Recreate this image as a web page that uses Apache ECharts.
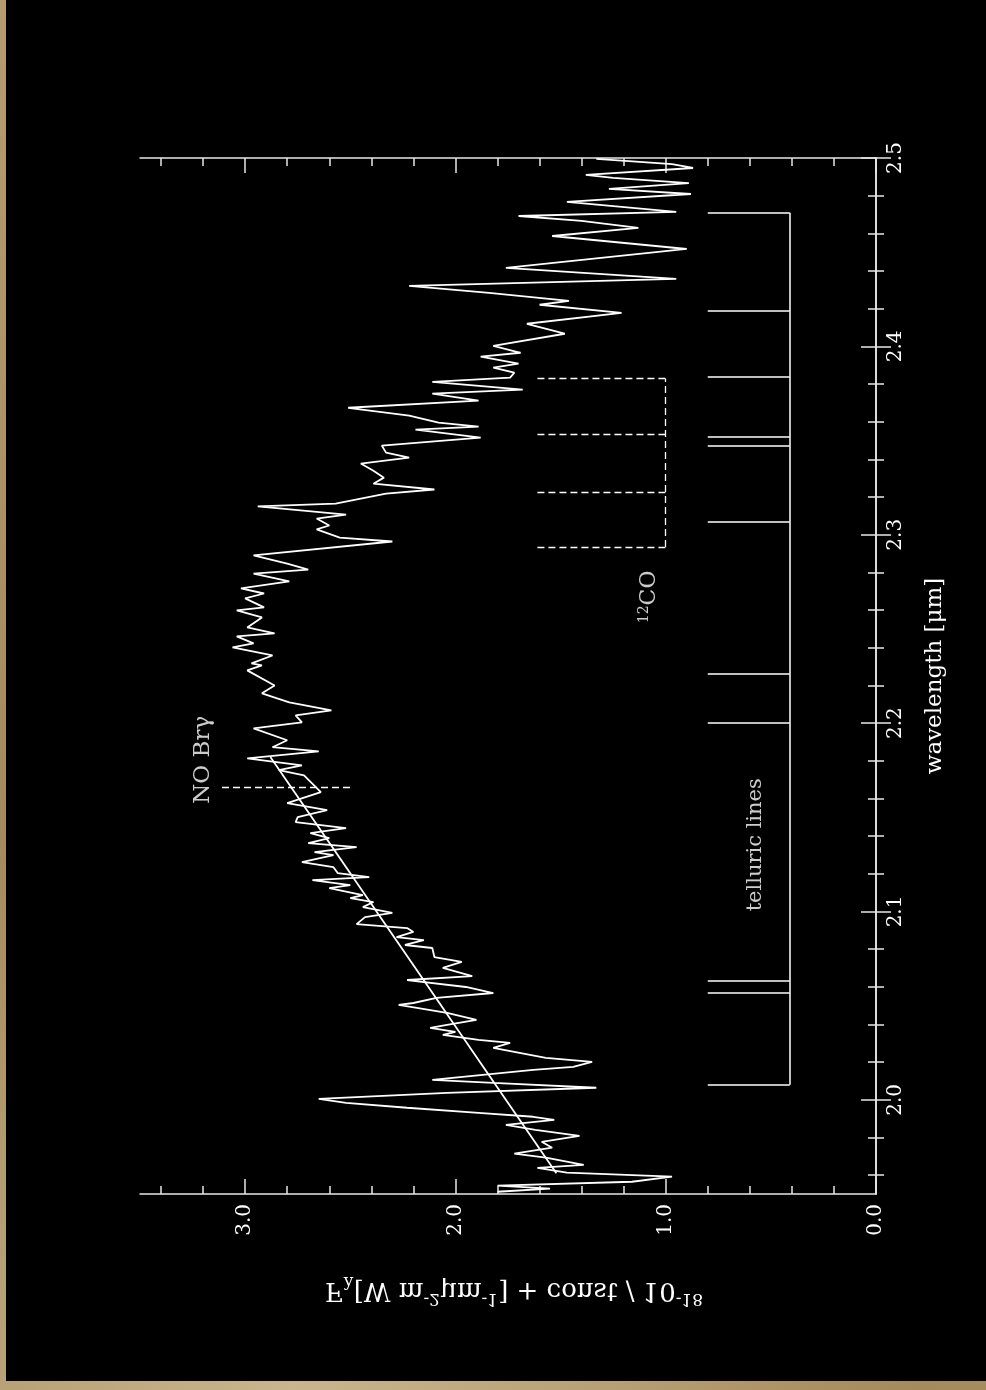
<!DOCTYPE html>
<html>
<head>
<meta charset="utf-8">
<script src="https://cdn.jsdelivr.net/npm/echarts@6/dist/echarts.min.js"></script>
<style>
html, body { margin: 0; padding: 0; width: 986px; height: 1390px; overflow: hidden;
  background: #b29a6e radial-gradient(circle at 30% 100%, #c9b68e 0, #a48a5c 40%, #b89f73 100%); }
#chart { position: absolute; left: 6px; top: 0; width: 980px; height: 1381px; background: #000; }
</style>
</head>
<body>
<div id="chart"></div>
<script>
(function () {
    let chart = echarts.init(document.querySelector("#chart"));

    // spectrum, wavelength in micron / flux
    var specLambda = [
        2.4995, 2.4968, 2.4947, 2.4910, 2.4894, 2.4867, 2.4836, 2.4809, 2.4767, 2.4714,
        2.4692, 2.4666, 2.4629, 2.4586, 2.4517, 2.4417, 2.4358, 2.4321, 2.4284, 2.4242,
        2.4221, 2.4178, 2.4120, 2.4067, 2.4003, 2.3966, 2.3945, 2.3908, 2.3887, 2.3860,
        2.3834, 2.3812, 2.3770, 2.3749, 2.3712, 2.3674, 2.3632, 2.3595, 2.3574, 2.3558,
        2.3515, 2.3473, 2.3436, 2.3409, 2.3378, 2.3340, 2.3303, 2.3271, 2.3240, 2.3218,
        2.3165, 2.3150, 2.3107, 2.3086, 2.3049, 2.3028, 2.2985, 2.2964, 2.2890, 2.2847,
        2.2815, 2.2794, 2.2752, 2.2715, 2.2688, 2.2662, 2.2614, 2.2598, 2.2561, 2.2508,
        2.2476, 2.2460, 2.2423, 2.2402, 2.2359, 2.2317, 2.2306, 2.2280, 2.2200, 2.2158,
        2.2110, 2.2068, 2.2041, 2.2004, 2.1972, 2.1909, 2.1872, 2.1850, 2.1813, 2.1776,
        2.1750, 2.1723, 2.1633, 2.1575, 2.1538, 2.1501, 2.1474, 2.1442, 2.1416, 2.1389,
        2.1363, 2.1341, 2.1315, 2.1299, 2.1262, 2.1235, 2.1204, 2.1182, 2.1166, 2.1140,
        2.1124, 2.1087, 2.1071, 2.1050, 2.1023, 2.0992, 2.0970, 2.0933, 2.0912, 2.0891,
        2.0864, 2.0848, 2.0822, 2.0806, 2.0758, 2.0732, 2.0700, 2.0657, 2.0636, 2.0599,
        2.0567, 2.0541, 2.0514, 2.0504, 2.0461, 2.0424, 2.0398, 2.0382, 2.0361, 2.0345,
        2.0318, 2.0302, 2.0276, 2.0223, 2.0201, 2.0175, 2.0159, 2.0106, 2.0090, 2.0064,
        2.0037, 2.0005, 1.9984, 1.9958, 1.9931, 1.9910, 1.9894, 1.9867, 1.9841, 1.9809,
        1.9777, 1.9746, 1.9714, 1.9693, 1.9655, 1.9639, 1.9613, 1.9592, 1.9565, 1.9544,
        1.9528, 1.9512
    ];
    var specFlux = [
        1.33, 0.97, 0.87, 1.38, 1.25, 0.89, 1.27, 0.88, 1.47, 0.95,
        1.70, 1.40, 1.13, 1.54, 0.90, 1.76, 0.95, 2.22, 1.84, 1.46,
        1.60, 1.21, 1.66, 1.48, 1.82, 1.69, 1.88, 1.70, 1.82, 1.72,
        1.74, 2.11, 1.68, 2.11, 1.89, 2.51, 2.22, 2.08, 1.89, 2.19,
        1.88, 2.35, 2.33, 2.22, 2.45, 2.39, 2.34, 2.39, 2.10, 2.33,
        2.57, 2.94, 2.52, 2.66, 2.60, 2.66, 2.55, 2.30, 2.96, 2.80,
        2.70, 2.96, 2.79, 3.02, 2.91, 3.00, 2.91, 3.04, 2.92, 2.99,
        2.86, 3.04, 2.96, 3.06, 2.87, 2.97, 2.92, 2.99, 2.86, 2.92,
        2.79, 2.59, 2.76, 2.73, 2.96, 2.80, 2.87, 2.65, 2.99, 2.73,
        2.84, 2.72, 2.64, 2.80, 2.61, 2.75, 2.76, 2.52, 2.69, 2.60,
        2.70, 2.47, 2.67, 2.58, 2.73, 2.58, 2.56, 2.41, 2.68, 2.50,
        2.60, 2.44, 2.50, 2.39, 2.44, 2.30, 2.43, 2.47, 2.23, 2.20,
        2.28, 2.15, 2.24, 2.11, 2.10, 1.97, 2.06, 1.92, 2.23, 1.95,
        1.82, 2.09, 2.20, 2.27, 2.04, 1.90, 2.04, 2.12, 2.00, 2.06,
        1.89, 1.74, 1.82, 1.57, 1.35, 1.44, 1.63, 2.11, 1.82, 1.33,
        2.04, 2.65, 2.52, 2.23, 1.89, 1.63, 1.53, 1.76, 1.62, 1.41,
        1.59, 1.54, 1.72, 1.57, 1.39, 1.61, 1.47, 0.97, 1.16, 1.80,
        1.55, 1.80
    ];

    // continuum fit: two end points [lambda, flux]
    var contLambda = [2.182, 1.961];
    var contFlux = [2.88, 1.52];

    // telluric lines (solid) and 12CO band heads (dashed)
    var telluricLambda = [2.008, 2.057, 2.063, 2.200, 2.226, 2.307, 2.347, 2.352, 2.384, 2.419, 2.471];
    var telluricFlux = [0.80, 0.41];
    var coLambda = [2.2935, 2.3227, 2.3535, 2.3829];
    var coFlux = [1.61, 1.00];
    var brgLambda = 2.1661;
    var brgFlux = [3.11, 2.50];

    // tick labels
    var lambdaTicks = [2.0, 2.1, 2.2, 2.3, 2.4, 2.5];
    var fluxTicks = [0.0, 1.0, 2.0, 3.0];

    var lambdaMinor = [];
    for (let v = 196; v < 250; v += 2) if (v % 10) lambdaMinor.push(v / 100);
    var fluxMinor = [];
    for (let v = 2; v < 35; v += 2) if (v % 10) fluxMinor.push(v / 10);

    var FONT = 'DejaVu Serif';
    var FG = '#e8e8e8';

    function axis(dim, grid, pos, ticks, len, labels, line) {
        var a = {
            type: 'value',
            gridIndex: grid,
            position: pos,
            min: dim === 'x' ? 0 : 1.95,
            max: dim === 'x' ? 3.5 : 2.5,
            inverse: dim === 'x',
            axisLine: { show: line, lineStyle: { color: FG, width: 1.5 } },
            axisTick: { show: true, inside: true, length: len, customValues: ticks,
                lineStyle: { color: FG, width: 1.5 } },
            axisLabel: { show: false },
            splitLine: { show: false }
        };
        if (labels) {
            a.axisLabel = {
                show: true, customValues: labels, rotate: 90, margin: 10,
                color: '#fff', fontFamily: FONT, fontSize: 20,
                formatter: v => v.toFixed(1)
            };
        }
        return a;
    }

    var gridBox = { left: 134, top: 158, width: 736, height: 1036 };

    let option = {
        animation: false,
        backgroundColor: '#000',
        grid: [Object.assign({}, gridBox), Object.assign({}, gridBox)],
        xAxis: [
            axis('x', 0, 'bottom', fluxTicks, 15, fluxTicks, true),
            axis('x', 0, 'top', fluxTicks, 15, null, true),
            axis('x', 1, 'bottom', fluxMinor, 8, null, false),
            axis('x', 1, 'top', fluxMinor, 8, null, false)
        ],
        yAxis: [
            Object.assign(axis('y', 0, 'right', lambdaTicks, 15, lambdaTicks, true), {
                name: 'wavelength [μm]', nameLocation: 'middle', nameRotate: 90, nameGap: 48,
                nameTextStyle: { color: '#fff', fontFamily: FONT, fontSize: 23 }
            }),
            axis('y', 0, 'left', lambdaTicks, 15, null, true),
            axis('y', 1, 'right', lambdaMinor, 8, null, false),
            axis('y', 1, 'left', lambdaMinor, 8, null, false)
        ],
        graphic: [{
            // the flux label is drawn mirrored in the original
            type: 'text', x: 508, y: 1290, scaleY: -1,
            style: {
                text: '{t|F}{sub|λ}{t|[W m}{sup|-2}{t|μm}{sup|-1}{t|] + const / 10}{sup|-18}',
                align: 'center', verticalAlign: 'middle', fill: '#fff',
                rich: {
                    t: { fontFamily: FONT, fontSize: 26, fill: '#fff', lineHeight: 34 },
                    sup: { fontFamily: FONT, fontSize: 17, fill: '#fff', verticalAlign: 'top', lineHeight: 34, padding: [0, 0, 14, 0] },
                    sub: { fontFamily: FONT, fontSize: 17, fill: '#fff', verticalAlign: 'bottom', lineHeight: 34, padding: [10, 0, 0, 0] }
                }
            }
        }],
        series: [{
            name: 'spectrum',
            type: 'line',
            xAxisIndex: 0, yAxisIndex: 0,
            data: specLambda.map((l, i) => [specFlux[i], l]),
            showSymbol: false,
            lineStyle: { color: '#fff', width: 1.8 }
        }, {
            name: 'continuum',
            type: 'line',
            xAxisIndex: 0, yAxisIndex: 0,
            data: contLambda.map((l, i) => [contFlux[i], l]),
            showSymbol: false,
            lineStyle: { color: '#fff', width: 1.8 }
        }, {
            name: 'telluric',
            type: 'lines',
            coordinateSystem: 'cartesian2d',
            xAxisIndex: 0, yAxisIndex: 0,
            data: telluricLambda.map(l => ({ coords: [[telluricFlux[0], l], [telluricFlux[1], l]] }))
                .concat([{ coords: [[telluricFlux[1], telluricLambda[0]],
                    [telluricFlux[1], telluricLambda[telluricLambda.length - 1]]] }]),
            lineStyle: { color: '#fff', width: 1.5, opacity: 1 }
        }, {
            name: 'CO',
            type: 'lines',
            coordinateSystem: 'cartesian2d',
            xAxisIndex: 0, yAxisIndex: 0,
            data: coLambda.map(l => ({ coords: [[coFlux[0], l], [coFlux[1], l]] }))
                .concat([{ coords: [[coFlux[1], coLambda[0]], [coFlux[1], coLambda[coLambda.length - 1]]] }]),
            lineStyle: { color: '#fff', width: 1.3, opacity: 1, type: [7, 4] }
        }, {
            name: 'Brg',
            type: 'lines',
            coordinateSystem: 'cartesian2d',
            xAxisIndex: 0, yAxisIndex: 0,
            data: [{ coords: [[brgFlux[0], brgLambda], [brgFlux[1], brgLambda]] }],
            lineStyle: { color: '#fff', width: 1.3, opacity: 1, type: [7, 4] }
        }, {
            name: 'notes',
            type: 'scatter',
            xAxisIndex: 0, yAxisIndex: 0,
            symbolSize: 0,
            data: [
                { value: [3.20, 2.1805], name: 'NO Brγ', label: { fontSize: 23 } },
                { value: [0.575, 2.1354], name: 'telluric lines' },
                { value: [1.08, 2.267], name: '{sup|12}CO', label: { fontSize: 22 } }
            ],
            label: {
                show: true, position: 'inside', rotate: 90,
                formatter: p => p.name,
                color: '#fff', fontFamily: FONT, fontSize: 21,
                rich: { sup: { fontFamily: FONT, fontSize: 14, color: '#fff', verticalAlign: 'top', padding: [0, 0, 10, 0] } }
            }
        }]
    };
    chart.setOption(option);
})();
</script>
</body>
</html>
